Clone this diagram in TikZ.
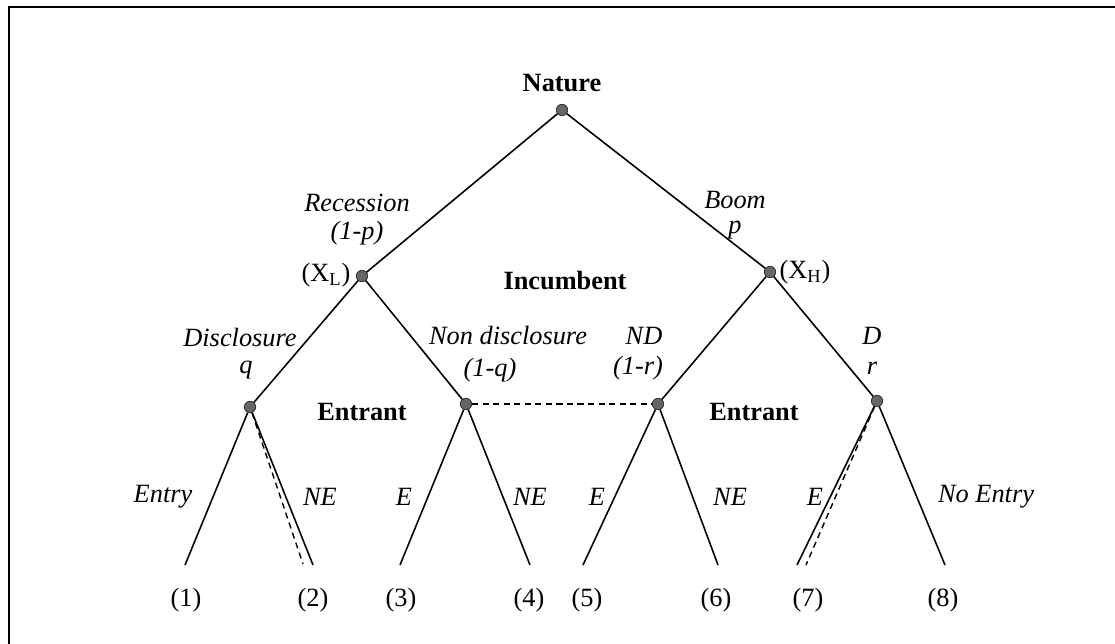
\documentclass[tikz,border=0pt]{standalone}
\usepackage{fontspec}
\setmainfont{Liberation Serif}
\usetikzlibrary{positioning}
\newcommand{\treefont}{\fontsize{15}{18}\selectfont}

\begin{document}
\begin{tikzpicture}[x=0.02cm,y=-0.02cm,
  dec/.style={circle,draw=black!85,fill=black!60,inner sep=0pt,minimum size=6.5pt},
  plr/.style={font=\treefont\bfseries},
  lab/.style={font=\treefont\itshape},
  pay/.style={font=\treefont},
  br/.style={line width=0.9pt},
  info/.style={line width=0.8pt,dash pattern=on 3.5pt off 2.5pt}]
\useasboundingbox (0,0) rectangle (1115,644);
\draw[line width=1.6pt] (9,644) -- (9,7) -- (1115,7);
% decision nodes
\node[dec] (n0) at (562,110) {};
\node[dec] (xl) at (362,276) {}; \node[dec] (xh) at (770,272) {};
\node[dec] (d1) at (250,407) {}; \node[dec] (d2) at (466,404) {};
\node[dec] (d3) at (658,404) {}; \node[dec] (d4) at (877,401) {};
% terminal points
\foreach \i/\x in {1/185,2/313,3/400,4/530,5/583,6/718,7/797,8/945}
  \coordinate (t\i) at (\x,565);
\coordinate (q2) at (303,564); \coordinate (q7) at (806,565);
% branches
\foreach \u/\v in {n0/xl,n0/xh,xl/d1,xl/d2,xh/d3,xh/d4,d1/t1,d1/t2,d2/t3,d2/t4,d3/t5,d3/t6,d4/t7,d4/t8}
  \draw[br] (\u) -- (\v);
\draw[info] (d2) -- (d3);
\draw[info] (d1) -- (q2);
\draw[info] (d4) -- (q7);
% players
\node[plr] (nat) at (562,83) {Nature};
\node[plr] (inc) at (565,281) {Incumbent};
\node[plr] (ent1) at (362,412) {Entrant};
\node[plr] (ent2) at (754,412) {Entrant};
\node[pay] (xlab) at (326,275) {(X\textsubscript{L})};
\node[pay] (xhab) at (805,272) {(X\textsubscript{H})};
% moves
\node[lab] (rec) at (357,203) {Recession};
\node[lab] (recp) at (357,233) {(1-p)};
\node[lab] (boom) at (735,200) {Boom};
\node[lab] (boomp) at (735,230) {p};
\node[lab] (dis) at (240,338) {Disclosure};
\node[lab] (disq) at (246,370) {q};
\node[lab] (nd) at (508,336) {Non disclosure};
\node[lab] (ndq) at (490,370) {(1-q)};
\node[lab] (ndh) at (644,336) {ND};
\node[lab] (ndr) at (638,368) {(1-r)};
\node[lab] (dh) at (872,336) {D};
\node[lab] (dr) at (872,368) {r};
\node[lab] (e1) at (163,497) {Entry};
\node[lab] (ne1) at (320,497) {NE};
\node[lab] (e2) at (404,497) {E};
\node[lab] (ne2) at (530,497) {NE};
\node[lab] (e3) at (597,497) {E};
\node[lab] (ne3) at (730,497) {NE};
\node[lab] (e4) at (815,497) {E};
\node[lab] (ne4) at (986,497) {No Entry};
% outcomes
\foreach \i/\x in {1/186,2/313,3/401,4/529,5/587,6/716,7/808,8/943}
  \node[pay] (o\i) at (\x,600) {(\i)};
\end{tikzpicture}
\end{document}
